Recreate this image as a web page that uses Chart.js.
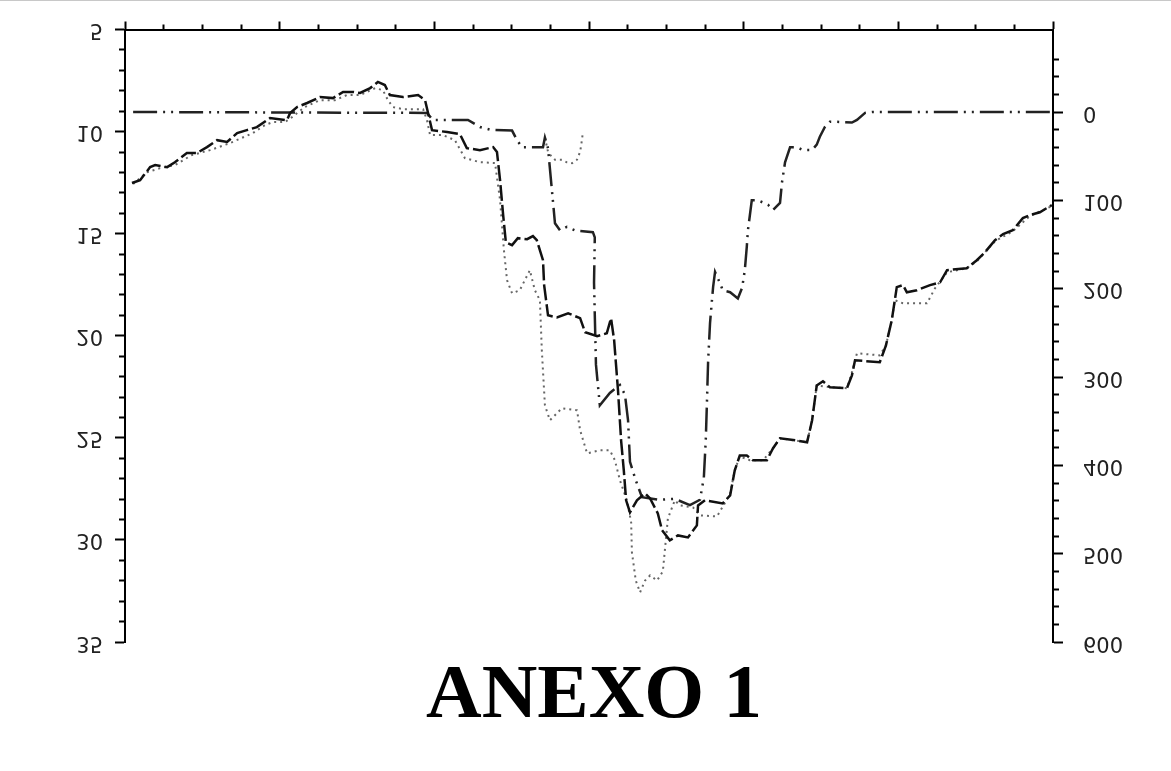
<!DOCTYPE html>
<html>
<head>
<meta charset="utf-8">
<script src="https://cdn.jsdelivr.net/npm/chart.js@4.4.1/dist/chart.umd.min.js"></script>
<style>
  html, body { margin: 0; padding: 0; background: #fff; }
  #wrap { position: relative; width: 1171px; height: 771px; }
  #edge { position: absolute; left: 0; top: 0; width: 1171px; height: 1px; background: #c8c8c8; }
</style>
</head>
<body>
<div id="wrap">
  <canvas id="anexoChart" width="1171" height="771"></canvas>
  <div id="edge"></div>
</div>
<script>
// Serie A (trazo discontinuo, eje izquierdo)
const aHour = [0.18,0.39,0.65,0.78,1.09,1.29,1.60,1.86,2.12,2.38,2.64,2.90,3.15,3.41,3.75,4.19,4.27,4.45,4.71,5.04,5.38,5.64,5.90,6.08,6.34,6.54,6.72,6.85,7.19,7.58,7.76,7.94,8.33,8.66,8.84,9.18,9.52,9.62,9.70,9.78,9.85,10.01,10.16,10.40,10.55,10.65,10.81,10.84,10.94,11.17,11.46,11.77,11.90,12.21,12.46,12.57,12.65,12.75,12.83,12.90,12.96,13.06,13.24,13.45,13.58,13.78,13.89,14.09,14.30,14.56,14.79,14.82,15.00,15.46,15.65,15.77,15.90,16.08,16.24,16.60,16.76,16.94,17.33,17.64,17.77,17.89,18.05,18.23,18.67,18.80,18.88,19.52,19.68,19.83,19.96,20.12,20.22,20.48,20.82,21.08,21.26,21.77,22.03,22.24,22.50,22.71,22.96,23.22,23.40,23.66,23.97];
const aVal = [12.52,12.38,11.74,11.64,11.74,11.50,11.05,11.05,10.76,10.42,10.51,10.07,9.93,9.78,9.34,9.44,9.09,8.80,8.60,8.31,8.36,8.06,8.06,8.11,7.87,7.57,7.72,8.21,8.31,8.21,8.46,9.93,10.02,10.12,10.81,10.91,10.76,11.00,12.38,14.09,15.42,15.56,15.22,15.27,15.12,15.32,16.30,17.52,19.00,19.10,18.90,19.14,19.83,20.02,19.88,19.14,20.22,22.67,25.12,26.59,28.06,28.65,28.06,27.72,27.97,28.70,29.53,30.02,29.78,29.88,29.29,28.31,28.06,28.21,27.82,26.59,25.86,25.86,26.10,26.10,25.51,25.02,25.12,25.22,24.14,22.43,22.23,22.52,22.57,21.94,21.20,21.30,20.47,19.24,17.62,17.52,17.87,17.77,17.52,17.38,16.79,16.69,16.30,15.91,15.32,15.02,14.83,14.24,14.09,13.95,13.60];

// Serie B (punteada, eje izquierdo)
const bHour = [0.21,0.57,0.91,1.29,1.73,2.20,2.72,3.31,3.62,3.83,4.14,4.32,4.65,5.04,5.43,5.74,6.08,6.47,6.67,6.80,6.93,7.19,7.71,7.81,7.89,8.22,8.53,8.79,9.18,9.57,9.70,9.80,9.88,10.01,10.21,10.47,10.60,10.73,10.78,10.86,10.99,11.30,11.69,11.77,11.95,12.28,12.54,12.67,12.80,12.98,13.09,13.11,13.21,13.32,13.45,13.58,13.76,13.91,14.04,14.22,14.35,14.69,14.87,15.31,15.51,15.65,15.77,15.90,16.16,16.50,16.76,16.94,17.64,17.77,17.89,18.23,18.67,18.80,18.93,19.52,19.68,19.83,19.91,20.12,20.74,20.95,21.26,21.77,22.03,22.50,22.96,23.40,23.97];
const bVal = [12.57,11.99,11.79,11.64,11.15,10.91,10.56,10.07,9.68,9.53,9.53,9.29,8.80,8.46,8.46,8.21,8.21,7.87,7.97,8.46,8.80,8.90,8.90,9.44,10.17,10.17,10.42,11.30,11.50,11.54,13.36,15.81,17.28,17.92,17.77,16.79,17.77,18.26,20.71,23.41,24.14,23.55,23.65,24.63,25.76,25.61,25.61,26.10,27.08,28.06,29.14,30.61,31.99,32.57,31.99,31.74,31.99,31.54,28.95,28.06,28.31,28.41,28.80,28.85,28.21,27.72,26.59,25.91,26.10,26.10,25.51,25.02,25.22,24.14,22.43,22.52,22.57,21.79,20.86,20.96,20.47,19.24,18.26,18.41,18.41,17.67,16.89,16.69,16.35,15.37,14.88,14.14,13.65];

// Serie C (raya-punto-punto, eje derecho)
const cHour = [0.21,7.81,7.96,8.33,8.87,9.18,9.44,10.01,10.14,10.27,10.81,10.86,10.94,11.04,11.12,11.25,11.43,11.64,12.10,12.15,12.13,12.18,12.28,12.54,12.80,12.93,13.01,13.06,13.21,13.37,13.83,14.22,14.61,14.87,14.97,15.02,15.05,15.08,15.13,15.18,15.21,15.26,15.39,15.46,15.65,15.85,15.96,16.03,16.08,16.11,16.21,16.37,16.63,16.76,16.94,16.99,17.07,17.20,17.38,17.53,17.77,17.89,17.97,18.10,18.23,18.36,18.80,18.93,19.14,19.34,23.97];
const cVal = [0,1,9,9,9,17,20,21,32,40,40,29,41,88,126,134,130,134,136,142,193,286,332,318,309,320,349,396,417,436,439,438,445,439,414,371,329,283,239,213,198,181,194,202,204,211,199,179,153,134,100,100,105,111,103,80,57,40,40,43,43,37,28,17,11,11,12,9,1,0,0];

// Serie D (punteada, eje derecho, tramo corto)
const dHour = [10.86,10.94,11.04,11.12,11.30,11.43,11.56,11.69,11.77,11.80,11.84];
const dVal = [29,45,51,54,54,57,58,54,45,37,24];

// Etiquetas de los ejes
const leftTicks = [5, 10, 15, 20, 25, 30, 35];
const rightTicks = [0, 100, 200, 300, 400, 500, 600];

const toPoints = (xs, ys) => xs.map((x, i) => ({ x: x, y: ys[i] }));

// Las etiquetas del original aparecen invertidas verticalmente
const flippedTicks = {
    id: 'flippedTicks',
    afterDraw(chart) {
        const ctx = chart.ctx;
        const yl = chart.scales.y;
        const yr = chart.scales.y2;
        const put = (txt, x, y, align) => {
            ctx.save();
            ctx.translate(x, y);
            ctx.scale(1, -1);
            ctx.textAlign = align;
            ctx.fillText(txt, 0, 0);
            ctx.restore();
        };
        ctx.save();
        ctx.font = '21px "DejaVu Sans"';
        ctx.fillStyle = '#222';
        ctx.textBaseline = 'middle';
        leftTicks.forEach(v => put(String(v), yl.right - 22, yl.getPixelForValue(v), 'right'));
        rightTicks.forEach(v => put(String(v), yr.left + 30, yr.getPixelForValue(v), 'left'));
        ctx.restore();
    }
};

const anexoChart = new Chart(document.getElementById('anexoChart'), {
    type: 'line',
    data: {
        datasets: [{
            label: 'A',
            data: toPoints(aHour, aVal),
            yAxisID: 'y',
            borderColor: '#111',
            borderWidth: 2.5,
            borderDash: [16, 4]
        }, {
            label: 'B',
            data: toPoints(bHour, bVal),
            yAxisID: 'y',
            borderColor: '#666',
            borderWidth: 2,
            borderDash: [2, 4]
        }, {
            label: 'C',
            data: toPoints(cHour, cVal),
            yAxisID: 'y2',
            borderColor: '#222',
            borderWidth: 2.5,
            borderDash: [24, 6, 2, 6, 2, 6]
        }, {
            label: 'D',
            data: toPoints(dHour, dVal),
            yAxisID: 'y2',
            borderColor: '#666',
            borderWidth: 2,
            borderDash: [2, 4]
        }]
    },
    options: {
        responsive: false,
        animation: false,
        events: [],
        elements: { point: { radius: 0 }, line: { tension: 0 } },
        layout: { padding: { left: 115, right: 98, top: 21.5, bottom: 0 } },
        plugins: {
            legend: { display: false },
            tooltip: { enabled: false },
            title: {
                display: true,
                text: 'ANEXO 1',
                position: 'bottom',
                color: '#000',
                font: { family: '"Liberation Serif", "Times New Roman", serif', size: 77, weight: 'bold' },
                padding: { top: 9, bottom: 27.6 }
            }
        },
        scales: {
            x: {
                type: 'linear',
                position: 'top',
                min: 0,
                max: 24,
                ticks: { display: false, stepSize: 1, maxTicksLimit: 100 },
                border: { display: true, color: '#000', width: 2 },
                grid: {
                    drawOnChartArea: false,
                    tickColor: '#000',
                    tickWidth: 2,
                    tickLength: 8,
                    tickBorderDash: c => (c.tick && c.tick.value % 4 === 0) ? [] : [0, 3, 5, 100]
                }
            },
            y: {
                type: 'linear',
                position: 'left',
                reverse: true,
                min: 5,
                max: 35,
                ticks: { display: false, stepSize: 1, maxTicksLimit: 100 },
                border: { display: true, color: '#000', width: 2 },
                grid: {
                    drawOnChartArea: false,
                    tickColor: '#000',
                    tickWidth: 2,
                    tickLength: 10,
                    tickBorderDash: c => (c.tick && c.tick.value % 5 === 0) ? [] : [0, 4, 6, 100]
                }
            },
            y2: {
                type: 'linear',
                position: 'right',
                reverse: true,
                min: -93.4,
                max: 600,
                ticks: { display: false, stepSize: 20, maxTicksLimit: 100 },
                afterBuildTicks: s => { s.ticks = s.ticks.filter(t => Math.abs(t.value % 20) < 1e-6); },
                afterFit: s => { s.width = 20; },
                border: { display: true, color: '#000', width: 2 },
                grid: {
                    drawOnChartArea: false,
                    tickColor: '#000',
                    tickWidth: 2,
                    tickLength: 10,
                    tickBorderDash: c => (c.tick && c.tick.value % 100 === 0) ? [] : [5, 100]
                }
            }
        }
    },
    plugins: [flippedTicks]
});
</script>
</body>
</html>
